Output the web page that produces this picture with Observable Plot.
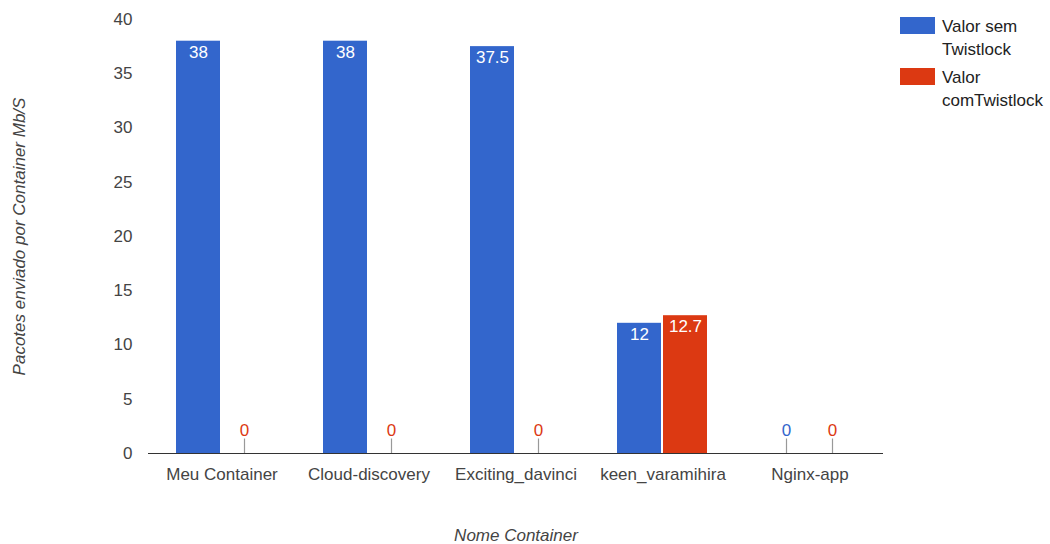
<!DOCTYPE html>
<html><head><meta charset="utf-8">
<script src="https://cdn.jsdelivr.net/npm/d3@7"></script>
<script src="https://cdn.jsdelivr.net/npm/@observablehq/plot@0.6"></script>
<style>
body{margin:0;background:#fff;font-family:Arial,"Liberation Sans",sans-serif;}
#wrap{position:relative;width:1050px;height:544px;}
#legend{position:absolute;left:900px;top:15px;font-size:17px;color:#222;line-height:23px;}
.li{display:flex;align-items:flex-start;margin-bottom:5px;}
.sw{width:35px;height:17px;margin-right:7px;margin-top:2px;}
[aria-label="y-axis label"] text,[aria-label="fx-axis label"] text{font-style:italic;}
</style></head><body>
<div id="wrap"><div id="chart"></div><div id="legend"></div></div>
<script>
const containers = ["Meu Container","Cloud-discovery","Exciting_davinci","keen_varamihira","Nginx-app"];
const series = ["Valor sem Twistlock","Valor comTwistlock"];
const legendLines = [["Valor sem","Twistlock"],["Valor","comTwistlock"]];
const semTwistlock = [38,38,37.5,12,0];
const comTwistlock = [0,0,0,12.7,0];
const colors = ["#3366cc","#dc3912"];
const yTicks = [0,5,10,15,20,25,30,35,40];

const rows = [];
containers.forEach((c,i)=>{
  rows.push({container:c, series:series[0], value:semTwistlock[i]});
  rows.push({container:c, series:series[1], value:comTwistlock[i]});
});
const tickSym = {draw(ctx){ctx.moveTo(0,0);ctx.lineTo(0,-15);}};

const chart = Plot.plot({
  width:1050, height:544,
  marginLeft:147, marginRight:166, marginTop:19, marginBottom:91,
  style:{fontFamily:"Arial, 'Liberation Sans', sans-serif", fontSize:"17px", color:"#444", background:"#fff"},
  fx:{domain:containers, padding:0, label:"Nome Container", labelAnchor:"center", labelOffset:87, tickSize:0, tickPadding:14},
  x:{domain:series, paddingInner:0.04, paddingOuter:0.615, axis:null},
  y:{domain:[0,40], ticks:yTicks, tickSize:0, tickPadding:16, label:"Pacotes enviado por Container Mb/S", labelArrow:false, labelAnchor:"center", labelOffset:136},
  color:{domain:series, range:colors},
  marks:[
    Plot.barY(rows.filter(d=>d.value>0),{fx:"container", x:"series", y:"value", fill:"series"}),
    Plot.dot(rows.filter(d=>d.value===0),{fx:"container", x:"series", y:"value", symbol:tickSym, stroke:"#999", fill:"none", strokeWidth:1.2}),
    Plot.text(rows.filter(d=>d.value===0),{fx:"container", x:"series", y:"value", text:d=>String(d.value), fill:"series", dy:-23, fontSize:17}),
    Plot.text(rows.filter(d=>d.value>0),{fx:"container", x:"series", y:"value", text:d=>String(d.value), fill:"white", dy:11, fontSize:17}),
    Plot.ruleY([0],{stroke:"#333", strokeWidth:1.2})
  ]
});
document.getElementById("chart").appendChild(chart);
const lg = document.getElementById("legend");
legendLines.forEach((ls,i)=>{
  const d=document.createElement("div");d.className="li";
  d.innerHTML=`<div class="sw" style="background:${colors[i]}"></div><div>${ls.join("<br>")}</div>`;
  lg.appendChild(d);
});
</script></body></html>
